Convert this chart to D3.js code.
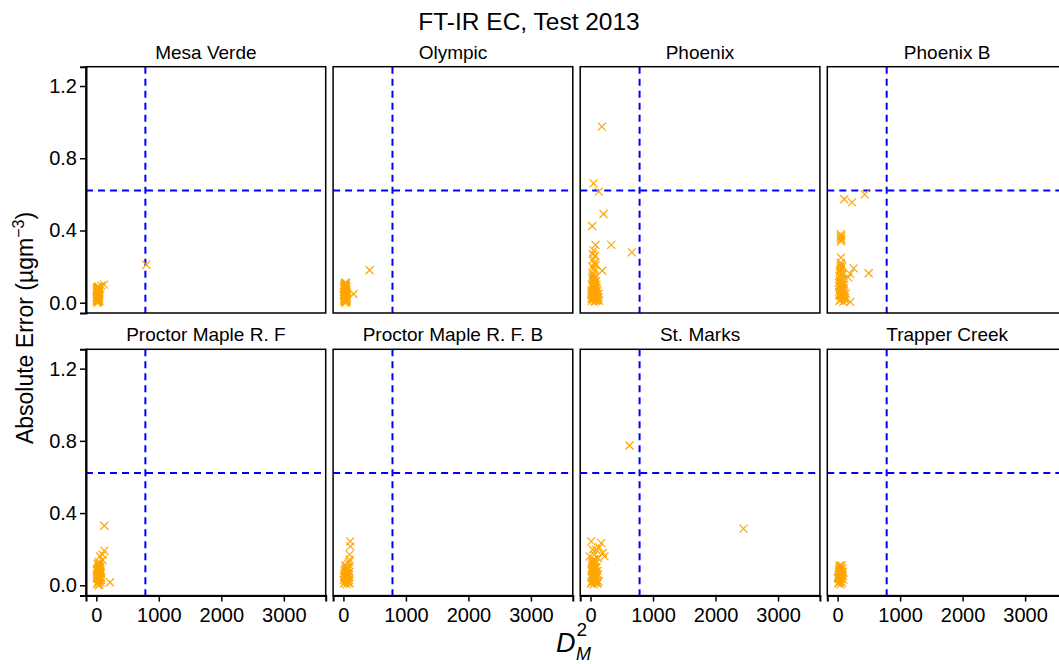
<!DOCTYPE html>
<html lang="en">
<head>
    <meta charset="UTF-8">
    <title>FT-IR EC, Test 2013</title>
    <script src="https://d3js.org/d3.v7.min.js"></script>
    <style>
        body { margin: 0; background: #fff; }
        svg { display: block; font-family: "Liberation Sans", Arial, Helvetica, sans-serif; }
    </style>
</head>
<body>
<svg id="chart" width="1059" height="664"></svg>

<script>
    // site names, in facet order
    const sites = ["Mesa Verde", "Olympic", "Phoenix", "Phoenix B",
        "Proctor Maple R. F", "Proctor Maple R. F. B", "St. Marks", "Trapper Creek"];

    // [D_M^2, absolute error]
    const mesaVerde = [[12,0.01],[25,0.02],[8,0.03],[30,0.005],[18,0.04],[40,0.015],[22,0.055],[10,0.06],
        [35,0.035],[15,0.07],[28,0.075],[45,0.045],[5,0.025],[20,0.085],[38,0.065],[32,0.09],[14,0.05],
        [26,0.03],[42,0.02],[9,0.08],[50,0.01],[18,0.0],[33,0.05],[24,0.068],[60,0.08],
        [20,0.015],[35,0.008],[15,0.045],[28,0.058],[40,0.072],[12,0.038],[22,0.028],[30,0.082],[45,0.06],
        [8,0.012],[38,0.042],[17,0.062],[26,0.088],[48,0.03],[10,0.072],[33,0.02],[42,0.055],[20,0.078],
        [80,0.095],[123,0.10],[800,0.21]];
    const olympic = [[10,0.01],[25,0.02],[40,0.005],[15,0.035],[35,0.03],[50,0.015],[20,0.05],[45,0.045],
        [8,0.06],[30,0.065],[55,0.055],[18,0.075],[38,0.08],[12,0.09],[28,0.1],[42,0.11],[22,0.095],
        [48,0.07],[5,0.04],[33,0.0],[60,0.025],[16,0.085],[26,0.11],[36,0.058],
        [20,0.012],[32,0.042],[45,0.025],[14,0.022],[52,0.038],[28,0.052],[40,0.068],[10,0.075],
        [24,0.082],[34,0.092],[46,0.088],[18,0.1],[30,0.008],[55,0.01],[38,0.1],
        [163,0.048],[419,0.18]];
    const phoenix = [[20,0.01],[40,0.02],[60,0.005],[80,0.015],[100,0.03],[30,0.04],[50,0.05],[70,0.035],
        [90,0.06],[120,0.02],[15,0.07],[45,0.08],[75,0.09],[110,0.07],[25,0.1],[55,0.11],[85,0.12],
        [35,0.13],[65,0.14],[130,0.05],[140,0.01],[10,0.045],[95,0.1],[60,0.085],
        [30,0.02],[50,0.03],[70,0.06],[90,0.01],[110,0.045],[20,0.055],[40,0.065],[60,0.04],
        [80,0.075],[100,0.085],[125,0.03],[15,0.025],[35,0.09],[55,0.07],[75,0.11],[45,0.12],
        [25,0.14],[65,0.1],[85,0.05],[105,0.015],[40,0.15],[55,0.13],
        [40,0.16],[70,0.18],[30,0.2],[60,0.22],[45,0.24],[75,0.26],[35,0.27],[55,0.19],[50,0.29],[80,0.21],
        [181,0.975],[48,0.661],[133,0.615],[208,0.491],[27,0.425],[80,0.32],[331,0.32],[661,0.279],[187,0.177]];
    const phoenixB = [[30,0.01],[60,0.02],[90,0.005],[120,0.015],[40,0.035],[80,0.04],[110,0.03],[25,0.06],
        [55,0.07],[95,0.055],[35,0.09],[70,0.1],[45,0.12],[85,0.13],[30,0.15],[60,0.16],[40,0.18],
        [75,0.2],[50,0.22],[100,0.08],[130,0.05],[20,0.11],[65,0.045],[105,0.1],
        [45,0.015],[75,0.025],[100,0.04],[30,0.045],[60,0.055],[85,0.07],[40,0.075],[70,0.085],
        [25,0.095],[55,0.105],[90,0.11],[35,0.125],[65,0.135],[50,0.145],[75,0.155],[35,0.17],
        [55,0.19],[45,0.2],[60,0.21],[115,0.025],
        [54,0.25],[54,0.34],[60,0.35],[48,0.36],[56,0.37],[50,0.38],[107,0.573],[230,0.556],[433,0.6],
        [257,0.19],[200,0.16],[170,0.14],[497,0.163],[204,0.005]];
    const proctor = [[10,0.01],[30,0.02],[50,0.005],[70,0.015],[20,0.035],[40,0.04],[60,0.03],[15,0.055],
        [35,0.06],[55,0.05],[75,0.065],[25,0.075],[45,0.08],[65,0.09],[30,0.1],[50,0.11],[20,0.12],
        [40,0.13],[80,0.04],[5,0.085],[60,0.1],[35,0.0],
        [22,0.012],[45,0.025],[62,0.045],[12,0.04],[28,0.05],[48,0.065],[68,0.075],[18,0.09],
        [38,0.095],[55,0.12],[28,0.115],[45,0.1],[10,0.065],[72,0.03],
        [128,0.33],[128,0.192],[59,0.16],[100,0.17],[219,0.017],[100,0.14]];
    const proctorB = [[10,0.01],[30,0.02],[50,0.005],[70,0.015],[90,0.03],[20,0.04],[45,0.05],[80,0.045],
        [15,0.065],[35,0.07],[60,0.06],[95,0.075],[25,0.09],[55,0.1],[85,0.095],[40,0.11],[70,0.12],
        [100,0.01],[5,0.03],[60,0.085],
        [22,0.015],[40,0.03],[62,0.035],[82,0.02],[12,0.05],[30,0.055],[50,0.07],[72,0.065],
        [20,0.08],[45,0.09],[65,0.1],[30,0.105],[88,0.06],[55,0.025],
        [110,0.243],[110,0.216],[99,0.17],[100,0.142],[90,0.13]];
    const stMarks = [[10,0.01],[30,0.02],[50,0.005],[70,0.015],[90,0.03],[110,0.01],[20,0.04],[60,0.05],
        [100,0.045],[40,0.065],[80,0.07],[15,0.085],[55,0.09],[95,0.1],[35,0.11],[75,0.12],[25,0.13],
        [65,0.14],[120,0.06],[45,0.03],[130,0.02],[85,0.095],
        [20,0.02],[40,0.045],[60,0.025],[80,0.04],[100,0.02],[25,0.06],[45,0.08],[65,0.075],
        [90,0.07],[30,0.1],[50,0.115],[70,0.1],[20,0.115],[40,0.13],[55,0.145],[110,0.08],
        [11,0.243],[171,0.234],[91,0.197],[37,0.197],[224,0.16],[197,0.179],[-16,0.16],[140,0.21],
        [60,0.17],[120,0.15],[624,0.774],[2448,0.314]];
    const trapper = [[10,0.01],[30,0.02],[50,0.005],[70,0.015],[90,0.03],[20,0.035],[45,0.045],[80,0.05],
        [15,0.06],[35,0.065],[60,0.07],[85,0.075],[25,0.085],[55,0.09],[40,0.1],[65,0.11],[30,0.11],
        [5,0.04],[75,0.095],[50,0.055],
        [22,0.015],[40,0.025],[62,0.035],[12,0.045],[30,0.05],[52,0.065],[72,0.06],[20,0.075],
        [42,0.08],[62,0.09],[32,0.095],[48,0.105]];

    const siteData = [mesaVerde, olympic, phoenix, phoenixB, proctor, proctorB, stMarks, trapper];

    // cut-off lines
    const cutX = 785;
    const cutY = 0.622;

    const xTicks = [0, 1000, 2000, 3000];
    const yTicks = [0, 0.4, 0.8, 1.2];

    // layout
    const left = 86, top0 = 66.7;
    const pw = 239.7, ph = 246.3;
    const colStep = 247.1, rowStep = 282.6;

    const svg = d3.select("#chart");

    const x = d3.scaleLinear().domain([-165, 3670]).range([0, pw]);
    const y = d3.scaleLinear().domain([-0.057, 1.307]).range([ph, 0]);

    // main title
    svg.append("text")
        .attr("x", 529).attr("y", 30)
        .attr("text-anchor", "middle")
        .attr("font-size", 24.5)
        .text("FT-IR EC, Test 2013");

    sites.forEach(function (name, i) {
        let col = i % 4, row = Math.floor(i / 4);
        let g = svg.append("g")
            .attr("transform", `translate(${left + col * colStep},${top0 + row * rowStep})`);

        // strip label
        g.append("text")
            .attr("x", pw / 2).attr("y", -8)
            .attr("text-anchor", "middle")
            .attr("font-size", 19)
            .text(name);

        // dashed cut-off lines
        g.append("line")
            .attr("x1", x(cutX)).attr("x2", x(cutX))
            .attr("y1", 0).attr("y2", ph)
            .attr("stroke", "#0000ff").attr("stroke-width", 2)
            .attr("stroke-dasharray", "7,5");
        g.append("line")
            .attr("x1", 0).attr("x2", pw)
            .attr("y1", y(cutY)).attr("y2", y(cutY))
            .attr("stroke", "#0000ff").attr("stroke-width", 2)
            .attr("stroke-dasharray", "7,5");

        // points (x shapes)
        g.append("g").selectAll("path")
            .data(siteData[i])
            .enter()
            .append("path")
            .attr("transform", d => `translate(${x(d[0])},${y(d[1])})`)
            .attr("d", "M-4,-4L4,4M-4,4L4,-4")
            .attr("stroke", "#ffa500")
            .attr("stroke-width", 1.2)
            .attr("fill", "none");

        // panel border
        g.append("rect")
            .attr("width", pw).attr("height", ph)
            .attr("fill", "none")
            .attr("stroke", "#000").attr("stroke-width", 1.5);

        if (col === 0) {
            let ya = g.append("g")
                .call(d3.axisLeft(y).tickValues(yTicks).tickFormat(d3.format(".1f")).tickSize(6).tickPadding(3));
            ya.select(".domain").attr("stroke-width", 2);
            ya.selectAll(".tick line").attr("stroke-width", 1.5);
            ya.selectAll(".tick text").attr("font-size", 20).attr("fill", "#000")
                .attr("font-family", "Liberation Sans, Arial, sans-serif");
        }
        if (row === 1) {
            let xa = g.append("g")
                .attr("transform", `translate(0,${ph})`)
                .call(d3.axisBottom(x).tickValues(xTicks).tickFormat(d3.format("d")).tickSize(6).tickPadding(6));
            xa.select(".domain").attr("stroke-width", 2);
            xa.selectAll(".tick line").attr("stroke-width", 1.5);
            xa.selectAll(".tick text").attr("font-size", 20).attr("fill", "#000")
                .attr("font-family", "Liberation Sans, Arial, sans-serif");
        }
    });

    // y axis title
    let yt = svg.append("text")
        .attr("transform", "translate(33,328) rotate(-90)")
        .attr("text-anchor", "middle")
        .attr("font-size", 23);
    yt.append("tspan").text("Absolute Error (\u00b5gm");
    yt.append("tspan").attr("font-size", 16).attr("dy", -9).text("\u22123");
    yt.append("tspan").attr("dy", 9).text(")");

    // x axis title: D_M^2
    let xt = svg.append("text")
        .attr("x", 556).attr("y", 652)
        .attr("font-size", 27)
        .attr("font-style", "italic");
    xt.append("tspan").text("D");
    xt.append("tspan").attr("font-size", 19).attr("dx", 1).attr("dy", -16).attr("font-style", "normal").text("2");
    xt.append("tspan").attr("font-size", 18).attr("dx", -11).attr("dy", 24).text("M");
</script>
</body>
</html>
